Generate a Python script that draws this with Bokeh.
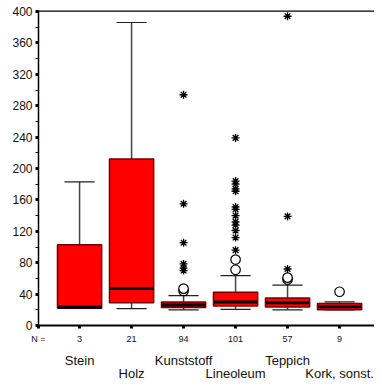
from bokeh.plotting import figure
from bokeh.models import LinearAxis, FixedTicker, Span, Range1d, ColumnDataSource
from bokeh.embed import file_html
from bokeh.resources import INLINE

# ---- data ----
categories = ["Stein", "Holz", "Kunststoff", "Lineoleum", "Teppich", "Kork, sonst."]
counts = [3, 21, 94, 101, 57, 9]
lower = [22, 21.5, 20, 20.5, 20, 20]
q1 = [22, 29, 23, 25, 23.5, 20]
median = [23.5, 47, 26, 30, 29, 24]
q3 = [103, 212, 30, 42.5, 35, 28]
upper = [183, 386, 38, 63.5, 51.5, 30]

circle_cat = [3, 3, 4, 4, 5, 5, 6]
circle_val = [44, 47, 71, 84, 58.5, 61, 43]

star_cat = [3, 3, 3, 3, 3, 3,
            4, 4, 4, 4, 4, 4, 4, 4, 4, 4, 4, 4, 4,
            5, 5, 5]
star_val = [70, 73, 78.5, 105.5, 155, 294,
            96, 112, 121, 128, 132, 140, 148, 151, 171, 174, 180, 184, 239,
            72, 139, 394]

y_ticks = [0, 40, 80, 120, 160, 200, 240, 280, 320, 360, 400]
y_minor = [20, 60, 100, 140, 180, 220, 260, 300, 340, 380]
n_label = "N ="

FONT = "Liberation Sans"
pos = list(range(1, len(categories) + 1))
X0, X1 = 0.21, 6.672

p = figure(width=374, height=383,
           x_range=Range1d(X0, X1), y_range=Range1d(0, 401.3),
           output_backend="svg", toolbar_location=None,
           x_axis_location=None,
           min_border_left=38, min_border_right=0,
           min_border_top=10, min_border_bottom=50)
p.outline_line_color = None
p.grid.visible = False
p.background_fill_color = "white"
p.border_fill_color = "white"

# top border line
p.add_layout(Span(location=401, dimension="width", line_color="black", line_width=2))

# y axis
ya = p.yaxis[0]
ya.ticker = FixedTicker(ticks=y_ticks, minor_ticks=y_minor)
ya.axis_line_color = "black"
ya.axis_line_width = 1.5
ya.major_tick_line_width = 3
ya.major_tick_out = 3
ya.major_tick_in = 0
ya.minor_tick_out = 3
ya.minor_tick_in = 0
ya.minor_tick_line_width = 1
ya.major_label_text_font = FONT
ya.major_label_text_font_size = "12px"
ya.major_label_text_color = "#111111"
ya.major_label_standoff = 3

# x axis with counts (and "N =" at the left edge)
xticks = [X0] + pos
overrides = {X0: n_label}
overrides.update({i: str(c) for i, c in zip(pos, counts)})
xa = LinearAxis(ticker=FixedTicker(ticks=xticks), major_label_overrides=overrides)
xa.axis_line_color = "black"
xa.axis_line_width = 2
xa.major_tick_line_width = 3
xa.major_tick_out = 3
xa.major_tick_in = 0
xa.minor_tick_line_color = None
xa.major_label_text_font = FONT
xa.major_label_text_font_size = "9px"
xa.major_label_text_color = "#111111"
xa.major_label_standoff = 5
p.add_layout(xa, "below")

# category names in two alternating rows
row1 = [i for i in pos if i % 2 == 1]
row2 = [i for i in pos if i % 2 == 0]
for row, standoff in ((row1, 6), (row2, -5)):
    ax = LinearAxis(ticker=FixedTicker(ticks=row),
                    major_label_overrides={i: categories[i - 1] for i in row})
    ax.axis_line_color = None
    ax.major_tick_line_color = None
    ax.minor_tick_line_color = None
    ax.major_tick_out = 0
    ax.major_tick_in = 0
    ax.major_label_text_font = FONT
    ax.major_label_text_font_size = "13px"
    ax.major_label_text_color = "#111111"
    ax.major_label_standoff = standoff
    p.add_layout(ax, "below")

# boxes
src = ColumnDataSource(dict(x=pos, lower=lower, q1=q1, med=median, q3=q3, upper=upper))
p.segment(x0="x", y0="q3", x1="x", y1="upper", source=src, line_color="#444444", line_width=1.5)
p.segment(x0="x", y0="lower", x1="x", y1="q1", source=src, line_color="#444444", line_width=1.5)
cap = 0.29
p.segment(x0=[x - cap for x in pos], y0=upper, x1=[x + cap for x in pos], y1=upper,
          line_color="#222222", line_width=1.2)
p.segment(x0=[x - cap for x in pos], y0=lower, x1=[x + cap for x in pos], y1=lower,
          line_color="#222222", line_width=1.2)
p.vbar(x="x", bottom="q1", top="q3", width=0.85, source=src,
       fill_color="#ff0000", line_color="#7a0000", line_width=1.5)
hw = 0.415
p.segment(x0=[x - hw for x in pos], y0=median, x1=[x + hw for x in pos], y1=median,
          line_color="black", line_width=3)

# outliers
p.scatter(circle_cat, circle_val, marker="circle", size=9.5, fill_color="white",
          line_color="black", line_width=1.2)
p.scatter(star_cat, star_val, marker="asterisk", size=8, line_color="black", line_width=1.3)

open("out.html", "w").write(file_html(p, INLINE))
